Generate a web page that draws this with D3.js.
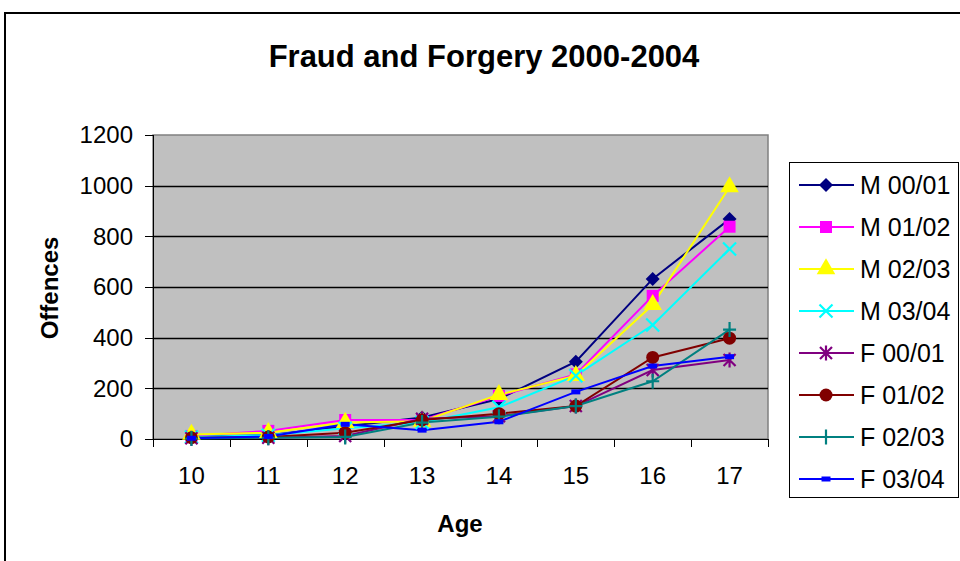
<!DOCTYPE html>
<html lang="en">
<head>
<meta charset="UTF-8">
<script src="https://cdn.jsdelivr.net/npm/d3@7"></script>
<style>
body {
    margin: 0;
    background: #fff;
    font-family: Arial, "Liberation Sans", sans-serif;
}
.axis text {
    font-size: 24px;
    fill: #000;
}
.axis path,
.axis line {
    stroke: #000;
    shape-rendering: crispEdges;
}
</style>
</head>
<body>
<div id="chart"></div>
<script>
const ages = ["10", "11", "12", "13", "14", "15", "16", "17"];
const seriesNames = ["M 00/01", "M 01/02", "M 02/03", "M 03/04", "F 00/01", "F 01/02", "F 02/03", "F 03/04"];
const m0001 = [10, 15, 50, 85, 158, 305, 632, 868];
const m0102 = [12, 32, 75, 75, 170, 255, 565, 838];
const m0203 = [18, 25, 65, 70, 175, 250, 530, 995];
const m0304 = [8, 15, 42, 65, 125, 250, 450, 750];
const f0001 = [3, 5, 12, 80, 90, 130, 272, 312];
const f0102 = [5, 8, 25, 75, 100, 130, 322, 398];
const f0203 = [2, 5, 8, 65, 88, 130, 228, 432];
const f0304 = [3, 10, 58, 35, 68, 186, 288, 325];
const yTicks = [0, 200, 400, 600, 800, 1000, 1200];

const values = [m0001, m0102, m0203, m0304, f0001, f0102, f0203, f0304];
const colors = ["#000080", "#ff00ff", "#ffff00", "#00ffff", "#800080", "#800000", "#008080", "#0000ff"];
const shapes = ["diamond", "square", "triangle", "x", "star", "circle", "plus", "dash"];

const W = 960, H = 561;
const plot = {left: 153, top: 135, right: 768, bottom: 439};

const svg = d3.select("#chart").append("svg")
    .attr("width", W)
    .attr("height", H);

// outer chart frame (runs off the right and bottom edges)
svg.append("rect")
    .attr("x", 5).attr("y", 13)
    .attr("width", W + 20).attr("height", H + 20)
    .attr("fill", "#fff")
    .attr("stroke", "#000")
    .attr("stroke-width", 2);

const x = d3.scaleBand()
    .domain(ages)
    .range([plot.left, plot.right]);

const y = d3.scaleLinear()
    .domain([0, 1200])
    .range([plot.bottom, plot.top]);

// plot area
svg.append("rect")
    .attr("x", plot.left).attr("y", plot.top)
    .attr("width", plot.right - plot.left)
    .attr("height", plot.bottom - plot.top)
    .attr("fill", "#c0c0c0")
    .attr("stroke", "#808080")
    .attr("stroke-width", 1.5);

// gridlines
svg.append("g")
    .selectAll("line")
    .data(yTicks.filter(d => d > 0 && d < 1200))
    .enter().append("line")
    .attr("x1", plot.left)
    .attr("x2", plot.right)
    .attr("y1", d => Math.round(y(d)) + 0.5)
    .attr("y2", d => Math.round(y(d)) + 0.5)
    .attr("stroke", "#000")
    .attr("stroke-width", 1.3);

// y axis
const yAxis = svg.append("g")
    .attr("class", "axis")
    .attr("transform", `translate(${plot.left},0)`)
    .call(d3.axisLeft(y).tickValues(yTicks).tickFormat(d3.format("d")).tickSize(8).tickPadding(12));
yAxis.select(".domain").attr("stroke", "#808080").attr("stroke-width", 1.5);

// x axis: ticks at category boundaries
const xAxis = svg.append("g")
    .attr("class", "axis")
    .attr("transform", `translate(0,${plot.bottom})`)
    .call(d3.axisBottom(x).tickSize(0).tickPadding(28));
xAxis.select(".domain").attr("stroke", "#000").attr("stroke-width", 1.5);
xAxis.selectAll(".bound")
    .data(d3.range(ages.length + 1))
    .enter().append("line")
    .attr("class", "bound")
    .attr("x1", i => Math.round(plot.left + i * x.step()) + 0.5)
    .attr("x2", i => Math.round(plot.left + i * x.step()) + 0.5)
    .attr("y1", 0)
    .attr("y2", 8)
    .attr("stroke", "#808080")
    .attr("stroke-width", 1.5);

// titles
svg.append("text")
    .attr("x", 484).attr("y", 67)
    .attr("text-anchor", "middle")
    .style("font-size", "31px")
    .style("font-weight", "bold")
    .text("Fraud and Forgery 2000-2004");

svg.append("text")
    .attr("x", 460).attr("y", 532)
    .attr("text-anchor", "middle")
    .style("font-size", "24px")
    .style("font-weight", "bold")
    .text("Age");

svg.append("text")
    .attr("transform", "translate(58,288) rotate(-90)")
    .attr("text-anchor", "middle")
    .style("font-size", "24px")
    .style("font-weight", "bold")
    .text("Offences");

// marker drawing
function marker(g, shape, color) {
    if (shape === "diamond") {
        g.append("path").attr("d", "M0,-7L7,0L0,7L-7,0Z").attr("fill", color);
    } else if (shape === "square") {
        g.append("rect").attr("x", -6).attr("y", -6).attr("width", 12).attr("height", 12).attr("fill", color);
    } else if (shape === "triangle") {
        g.append("path").attr("d", d3.symbol(d3.symbolTriangle, 150)()).attr("fill", color);
    } else if (shape === "circle") {
        g.append("circle").attr("r", 6.5).attr("fill", color);
    } else if (shape === "x") {
        g.append("path").attr("d", "M-6.5,-6.5L6.5,6.5M-6.5,6.5L6.5,-6.5")
            .attr("stroke", color).attr("stroke-width", 2.2).attr("fill", "none");
    } else if (shape === "star") {
        g.append("path").attr("d", "M-6,-6L6,6M-6,6L6,-6M0,-7.5L0,7.5")
            .attr("stroke", color).attr("stroke-width", 2.2).attr("fill", "none");
    } else if (shape === "plus") {
        g.append("path").attr("d", "M-6.5,0L6.5,0M0,-7.5L0,7.5")
            .attr("stroke", color).attr("stroke-width", 2.2).attr("fill", "none");
    } else if (shape === "dash") {
        g.append("rect").attr("x", -4.5).attr("y", -2.5).attr("width", 9).attr("height", 5).attr("fill", color);
    }
}

const line = d3.line()
    .x((d, i) => x(ages[i]) + x.bandwidth() / 2)
    .y(d => y(d));

values.forEach((vals, s) => {
    svg.append("path")
        .datum(vals)
        .attr("d", line)
        .attr("fill", "none")
        .attr("stroke", colors[s])
        .attr("stroke-width", 2);
});

values.forEach((vals, s) => {
    vals.forEach((v, i) => {
        const g = svg.append("g")
            .attr("transform", `translate(${x(ages[i]) + x.bandwidth() / 2},${y(v)})`);
        marker(g, shapes[s], colors[s]);
    });
});

// legend
const legend = svg.append("g");
legend.append("rect")
    .attr("x", 789.5).attr("y", 162.5)
    .attr("width", 169).attr("height", 335)
    .attr("fill", "#fff")
    .attr("stroke", "#000")
    .attr("stroke-width", 1);

seriesNames.forEach((name, s) => {
    const cy = 185 + s * 42;
    legend.append("line")
        .attr("x1", 799).attr("x2", 854)
        .attr("y1", cy).attr("y2", cy)
        .attr("stroke", colors[s])
        .attr("stroke-width", 2);
    marker(legend.append("g").attr("transform", `translate(826,${cy})`), shapes[s], colors[s]);
    legend.append("text")
        .attr("x", 860).attr("y", cy)
        .attr("dy", "0.35em")
        .style("font-size", "25px")
        .text(name);
});
</script>
</body>
</html>
